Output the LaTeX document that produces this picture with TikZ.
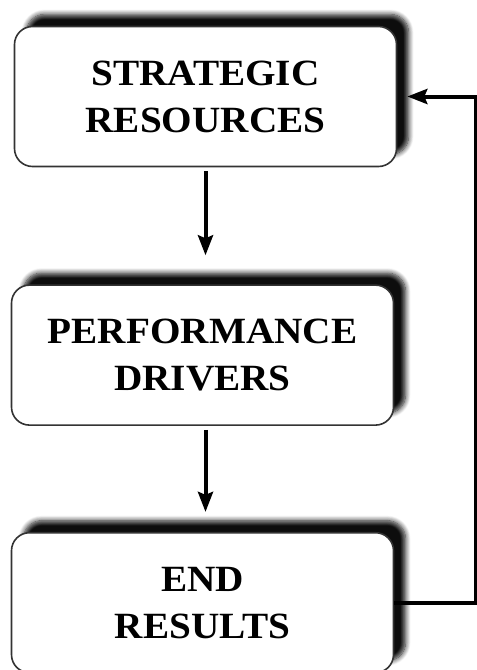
\documentclass[tikz,border=0pt]{standalone}
\usepackage{fontspec}
\setmainfont{Liberation Serif}[FakeStretch=1.06]
\usepackage{tikz}
\usetikzlibrary{positioning, arrows.meta, shadows, shadows.blur}
\tikzstyle{bloque} = [draw=black!80, line width=1.6pt, fill=white, rectangle, rounded corners=18pt, minimum width=382pt, minimum height=140pt, align=center, font=\fontsize{37}{47}\selectfont\bfseries, blur shadow={shadow xshift=12pt, shadow yshift=12pt, shadow blur steps=8, shadow blur radius=5pt, shadow opacity=95}]
\tikzstyle{flecha} = [line width=4pt, -{Stealth[length=20pt, width=15pt, inset=3pt]}]

\begin{document}
\begin{tikzpicture}
	\useasboundingbox (0,0) rectangle (477pt,-670pt);
	\node[bloque] (rec) at (205.5pt,-96.5pt) {STRATEGIC\\RESOURCES};
	\node[bloque, below=117pt of rec, xshift=-3pt] (drv) {PERFORMANCE\\DRIVERS};
	\node[bloque, below=106pt of drv] (res) {END\\RESULTS};
	\coordinate (giro) at ([xshift=82pt]res.east);
	\draw[flecha, shorten <=4pt, shorten >=29pt] (rec.south) -- (rec.south |- drv.north);
	\draw[flecha, shorten <=4pt, shorten >=20pt] ([xshift=3pt]drv.south) -- ([xshift=3pt]drv.south |- res.north);
	\draw[flecha, shorten >=10pt] (res.east) -- (giro) |- (rec.east);
\end{tikzpicture}
\end{document}
